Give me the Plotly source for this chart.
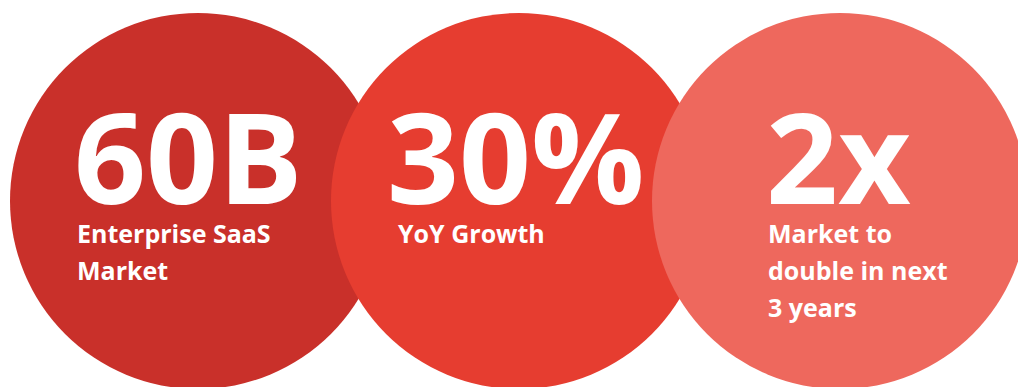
import plotly.graph_objects as go

# ---- data ----
headline = ["60B", "30%", "2x"]
caption_lines = [
    ["Enterprise SaaS", "Market"],
    ["YoY Growth"],
    ["Market to", "double in next", "3 years"],
]
fill_colors = ["#C9302A", "#E63D30", "#EE685D"]

# ---- layout constants ----
W, H = 1018, 387
R = 188
CY = 201
CX0 = 198
STEP = 321
head_left = [72, 385, 764]
cap_left = [75, 396, 766]
HEAD_Y = 155
CAP_Y0 = 233
CAP_DY = 37
FONT = "Open Sans"

fig = go.Figure()
fig.add_trace(go.Scatter(x=[0, W], y=[0, H], mode="markers",
                         marker=dict(opacity=0), hoverinfo="skip", showlegend=False))

for i, (txt, lines, col) in enumerate(zip(headline, caption_lines, fill_colors)):
    cx = CX0 + i * STEP
    fig.add_shape(type="circle", xref="x", yref="y",
                  x0=cx - R, x1=cx + R, y0=CY - R, y1=CY + R,
                  fillcolor=col, line=dict(width=0), layer="below")
    fig.add_annotation(x=head_left[i], y=HEAD_Y, xref="x", yref="y",
                       text=txt, showarrow=False, xanchor="left", yanchor="middle",
                       font=dict(family=FONT, size=126, color="white", weight=700))
    for j, ln in enumerate(lines):
        fig.add_annotation(x=cap_left[i], y=CAP_Y0 + j * CAP_DY, xref="x", yref="y",
                           text=ln, showarrow=False, xanchor="left", yanchor="middle",
                           font=dict(family=FONT, size=25, color="white", weight=700))

fig.update_xaxes(range=[0, W], visible=False, fixedrange=True)
fig.update_yaxes(range=[H, 0], visible=False, fixedrange=True)
fig.update_layout(width=W, height=H, autosize=False,
                  margin=dict(l=0, r=0, t=0, b=0),
                  paper_bgcolor="white", plot_bgcolor="white",
                  hovermode=False, showlegend=False)

fig.write_html("out.html", config={"displayModeBar": False})
